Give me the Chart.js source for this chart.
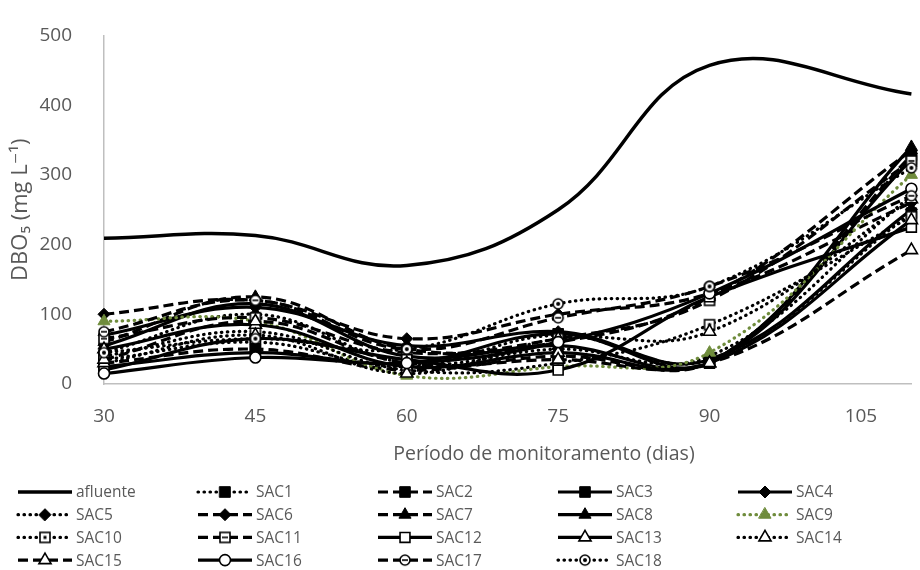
<!DOCTYPE html>
<html>
<head>
<meta charset="utf-8">
<script src="https://cdn.jsdelivr.net/npm/chart.js@4.4.1/dist/chart.umd.min.js"></script>
<style>
  html, body { margin: 0; padding: 0; background: #fff; }
  #wrap { width: 920px; height: 570px; position: relative; }
</style>
</head>
<body>
<div id="wrap"><canvas id="dboChart"></canvas></div>
<script>
// dias de monitoramento (eixo x) e valores de DBO5 (mg/L)
const dias = [30, 45, 60, 75, 90, 110];
const xTicks = [30, 45, 60, 75, 90, 105];
const yTicks = [0, 100, 200, 300, 400, 500];

const afluente = [209, 213, 170, 250, 457, 416];
const sac1  = [35, 60, 25, 70, 35, 245];
const sac2  = [30, 50, 20, 40, 30, 328];
const sac3  = [25, 45, 30, 72, 30, 322];
const sac4  = [70, 110, 55, 75, 35, 250];
const sac5  = [45, 100, 30, 50, 40, 270];
const sac6  = [100, 120, 65, 100, 130, 260];
const sac7  = [60, 125, 50, 60, 125, 335];
const sac8  = [55, 115, 40, 55, 30, 340];
const sac9  = [90, 90, 12, 25, 45, 300];
const sac10 = [40, 75, 20, 30, 85, 240];
const sac11 = [65, 95, 45, 65, 120, 320];
const sac12 = [20, 65, 35, 20, 125, 225];
const sac13 = [50, 85, 25, 45, 30, 235];
const sac14 = [30, 70, 15, 65, 75, 265];
const sac15 = [35, 90, 30, 35, 30, 192];
const sac16 = [15, 38, 30, 60, 130, 280];
const sac17 = [75, 120, 50, 95, 140, 270];
const sac18 = [45, 65, 50, 115, 140, 310];

const nomes = ['afluente', 'SAC1', 'SAC2', 'SAC3', 'SAC4', 'SAC5', 'SAC6', 'SAC7', 'SAC8', 'SAC9',
  'SAC10', 'SAC11', 'SAC12', 'SAC13', 'SAC14', 'SAC15', 'SAC16', 'SAC17', 'SAC18'];
const series = [afluente, sac1, sac2, sac3, sac4, sac5, sac6, sac7, sac8, sac9,
  sac10, sac11, sac12, sac13, sac14, sac15, sac16, sac17, sac18];
const xTitulo = 'Período de monitoramento (dias)';

// custom marker images for the symbols chart.js doesn't have
function mark(kind) {
  const c = document.createElement('canvas');
  c.width = 14; c.height = 14;
  const g = c.getContext('2d');
  g.lineWidth = 1.6; g.strokeStyle = '#000'; g.fillStyle = '#fff';
  if (kind === 'sqDot' || kind === 'sqLine') {
    g.fillRect(2, 2, 10, 10); g.strokeRect(2, 2, 10, 10);
    g.fillStyle = '#000';
    if (kind === 'sqDot') g.fillRect(5.5, 5.5, 3, 3);
    else g.fillRect(4, 6.2, 6, 1.6);
  } else {
    g.beginPath(); g.arc(7, 7, 5, 0, Math.PI * 2); g.fill(); g.stroke();
    g.fillStyle = '#000';
    if (kind === 'cirDot') { g.beginPath(); g.arc(7, 7, 2, 0, Math.PI * 2); g.fill(); }
    else { g.fillRect(4, 6.2, 6, 1.6); }
  }
  return c;
}

const BLACK = '#000000', GREEN = '#6f8c3c';
const SOLID = [], DASH = [10, 5], DOT = [0.5, 5.5];
// [dash, marker style, radius, filled]
const estilos = [
  [SOLID, false],
  [DOT, 'rect', 7.5, true], [DASH, 'rect', 7.5, true], [SOLID, 'rect', 7.5, true],
  [SOLID, 'rectRot', 6, true], [DOT, 'rectRot', 6, true], [DASH, 'rectRot', 6, true],
  [DASH, 'triangle', 7, true], [SOLID, 'triangle', 7, true], [DOT, 'triangle', 7, true],
  [DOT, mark('sqDot'), 6, false], [DASH, mark('sqLine'), 6, false], [SOLID, 'rect', 7, false],
  [SOLID, 'triangle', 7, false], [DOT, 'triangle', 7, false], [DASH, 'triangle', 7, false],
  [SOLID, 'circle', 5.5, false], [DASH, mark('cirLine'), 6, false], [DOT, mark('cirDot'), 6, false]
];

const datasets = series.map((vals, i) => {
  const [dash, ps, r, filled] = estilos[i];
  const cor = i === 9 ? GREEN : BLACK;
  return {
    label: nomes[i],
    data: dias.map((d, k) => ({ x: d, y: vals[k] })),
    borderColor: cor,
    borderWidth: i === 0 ? 3.5 : 3.2,
    borderDash: dash,
    borderCapStyle: dash === DOT ? 'round' : 'butt',
    tension: 0.4,
    pointStyle: ps || 'circle',
    pointRadius: ps ? r : 0,
    pointHoverRadius: ps ? r : 0,
    pointBackgroundColor: filled ? cor : '#ffffff',
    pointBorderColor: cor,
    pointBorderWidth: filled ? 1 : 1.6,
    clip: false,
    order: 30 - i
  };
});

const gridLegend = {
  id: 'gridLegend',
  afterDraw(chart) {
    const ctx = chart.ctx;
    // x axis title, Excel puts it a bit right of the plot centre
    ctx.save();
    ctx.fillStyle = '#595959';
    ctx.font = '19.5px "Open Sans"';
    ctx.textAlign = 'center';
    ctx.textBaseline = 'middle';
    ctx.fillText(xTitulo, 544, 454);
    ctx.restore();

    chart.data.datasets.forEach((ds, i) => {
      const x0 = 18 + (i % 5) * 180;
      const y = 492 + Math.floor(i / 5) * 22.7;
      ctx.save();
      ctx.strokeStyle = ds.borderColor;
      ctx.lineWidth = ds.borderWidth;
      ctx.setLineDash(ds.borderDash);
      ctx.lineCap = ds.borderCapStyle;
      ctx.beginPath(); ctx.moveTo(x0, y); ctx.lineTo(x0 + 54, y); ctx.stroke();
      ctx.setLineDash([]);
      if (ds.pointRadius > 0) {
        ctx.fillStyle = ds.pointBackgroundColor;
        ctx.strokeStyle = ds.pointBorderColor;
        ctx.lineWidth = ds.pointBorderWidth;
        Chart.helpers.drawPoint(ctx, { pointStyle: ds.pointStyle, radius: ds.pointRadius, borderWidth: ds.pointBorderWidth, rotation: 0 }, x0 + 27, y);
      }
      ctx.fillStyle = '#595959';
      ctx.font = '15.5px "Open Sans"';
      ctx.textBaseline = 'middle';
      ctx.fillText(ds.label, x0 + 58, y + 1);
      ctx.restore();
    });
  }
};

Chart.defaults.font.family = '"Open Sans", "DejaVu Sans", sans-serif';
Chart.defaults.color = '#595959';

new Chart(document.getElementById('dboChart'), {
  type: 'line',
  data: { datasets },
  options: {
    responsive: true,
    maintainAspectRatio: false,
    animation: false,
    layout: { padding: { left: 8, right: 8, top: 27, bottom: 105 } },
    plugins: { legend: { display: false }, tooltip: { enabled: false } },
    scales: {
      x: {
        type: 'linear',
        min: dias[0],
        max: dias[dias.length - 1],
        afterBuildTicks: s => { s.ticks = xTicks.map(v => ({ value: v })); },
        afterFit: s => { s.height = 81; },
        grid: { display: false },
        border: { display: true, color: '#bfbfbf', width: 1.5 },
        ticks: { font: { size: 19 }, padding: 13 }
      },
      y: {
        min: 0,
        max: 500,
        afterBuildTicks: s => { s.ticks = yTicks.map(v => ({ value: v })); },
        afterFit: s => { s.width = 96; },
        grid: { display: false },
        border: { display: true, color: '#bfbfbf', width: 1.5 },
        ticks: { font: { size: 19 }, padding: 24 },
        title: { display: true, text: 'DBO₅ (mg L⁻¹)', font: { size: 22 }, padding: 0 }
      }
    }
  },
  plugins: [gridLegend]
});
</script>
</body>
</html>
